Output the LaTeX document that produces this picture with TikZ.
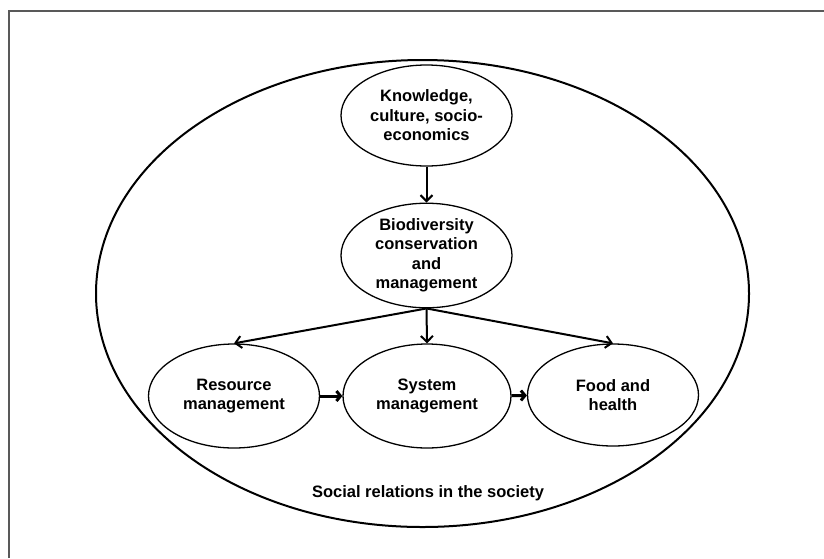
\documentclass[tikz,border=0pt]{standalone}
\usepackage{fontspec}
\setmainfont{Liberation Sans}
\usepackage{tikz}
\usetikzlibrary{shapes.geometric}
\usetikzlibrary{arrows.meta}
\tikzset{>={Straight Barb[length=6pt,width=12pt]}}
\usepackage{xcolor}
\colorlet{framecol}{black!65}
\tikzstyle{label}=[font=\fontsize{16.5}{19.5}\selectfont\bfseries,align=center]
\tikzstyle{bubble}=[label,ellipse,draw,line width=1.3pt,inner sep=0,
  minimum width=171,minimum height=103]
\tikzstyle{flow}=[->,line width=2pt]
\tikzstyle{push}=[->,line width=3pt,>={Straight Barb[length=4pt,width=10pt]}]
\def\W{824}
\def\H{558}

\begin{document}
\begin{tikzpicture}[x=1pt,y=-1pt]
  \useasboundingbox (0,0) rectangle (\W,\H);
  
  % FRAME
  \draw[framecol,line width=1.6pt] (9,\H) -- (9,11) -- (\W,11);
  
  % SOCIETY
  \draw[line width=2pt] (422.5,293.5) ellipse [x radius=326.5,y radius=233.5];
  \node[label] (soc) at (428,493) {Social relations in the society};
  
  % BUBBLES
  \node[bubble,minimum height=101] (know) at (426.5,115.5) {Knowledge,\\culture, socio-\\economics};
  \node[bubble] (bio) at (426.5,255.5) {Biodiversity\\conservation\\and\\management};
  \node[bubble,minimum height=104] (res) at (234,396) {Resource\\management};
  \node[bubble,minimum height=104,minimum width=168] (sys) at (427,396) {System\\management};
  \node[bubble,minimum height=102] (food) at (613,395) {Food and\\health};
  
  % ARROWS
  \draw[flow] (know) -- (bio);
  \draw[flow] (bio.south) -- (res.north);
  \draw[flow] (bio.south) -- (sys.north);
  \draw[flow] (bio.south) -- (food.north);
  \draw[push] (res) -- (sys);
  \draw[push] (sys) -- (food);
  
\end{tikzpicture}
\end{document}
